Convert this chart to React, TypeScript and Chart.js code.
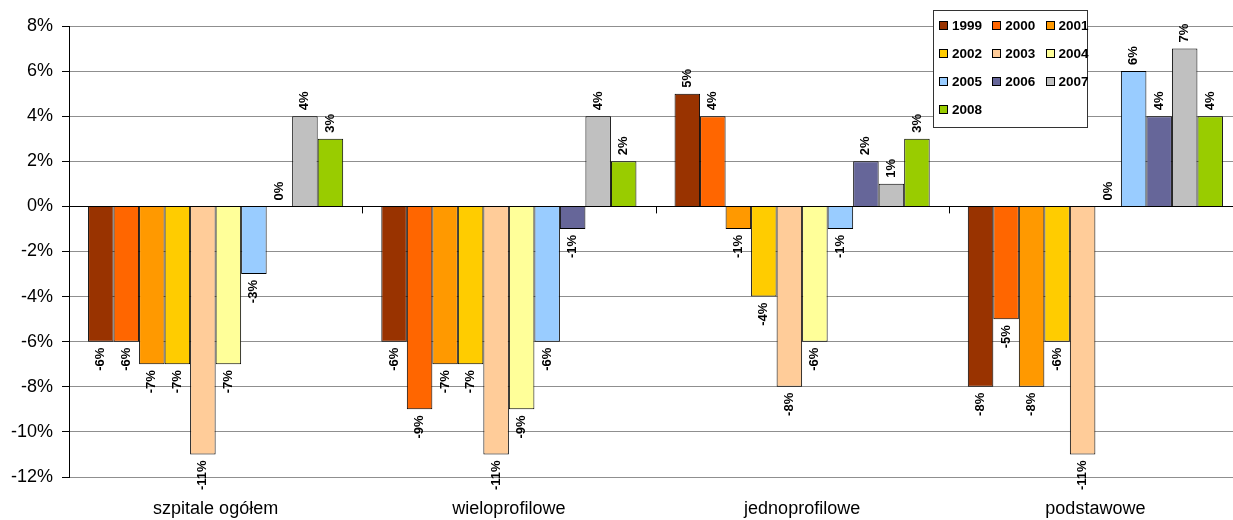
import React, { useEffect, useRef } from "react";
import { Chart, registerables } from "chart.js";

Chart.register(...registerables);

const categories = ["szpitale ogółem", "wieloprofilowe", "jednoprofilowe", "podstawowe"];
const years = ["1999", "2000", "2001", "2002", "2003", "2004", "2005", "2006", "2007", "2008"];
const colors = ["#993300", "#FF6600", "#FF9900", "#FFCC00", "#FFCC99", "#FFFF99", "#99CCFF", "#666699", "#C0C0C0", "#99CC00"];

const v1999 = [-6, -6, 5, -8];
const v2000 = [-6, -9, 4, -5];
const v2001 = [-7, -7, -1, -8];
const v2002 = [-7, -7, -4, -6];
const v2003 = [-11, -11, -8, -11];
const v2004 = [-7, -9, -6, 0];
const v2005 = [-3, -6, -1, 6];
const v2006 = [0, -1, 2, 4];
const v2007 = [4, 4, 1, 7];
const v2008 = [3, 2, 3, 4];
const seriesValues = [v1999, v2000, v2001, v2002, v2003, v2004, v2005, v2006, v2007, v2008];

const yMin = -12;
const yMax = 8;
const yStep = 2;

const FONT = "'Liberation Sans', Arial, sans-serif";

const valueLabels = {
  id: "valueLabels",
  afterDatasetsDraw(chart: any) {
    const ctx = chart.ctx;
    ctx.save();
    ctx.font = `bold 13px ${FONT}`;
    ctx.fillStyle = "#000";
    ctx.textBaseline = "middle";
    chart.data.datasets.forEach((ds: any, di: number) => {
      const meta = chart.getDatasetMeta(di);
      meta.data.forEach((el: any, i: number) => {
        const v = ds.data[i];
        const { x, y } = el.getProps(["x", "y"], true);
        ctx.save();
        if (v >= 0) {
          ctx.translate(x, y - 6);
          ctx.rotate(-Math.PI / 2);
          ctx.textAlign = "left";
        } else {
          ctx.translate(x, y + 6);
          ctx.rotate(-Math.PI / 2);
          ctx.textAlign = "right";
        }
        ctx.fillText(v + "%", 0, 0);
        ctx.restore();
      });
    });
    ctx.restore();
  },
};

const categoryTicks = {
  id: "categoryTicks",
  afterDatasetsDraw(chart: any) {
    const ctx = chart.ctx;
    const xs = chart.scales.x;
    const ys = chart.scales.y;
    const y0 = ys.getPixelForValue(0);
    const n = categories.length;
    ctx.save();
    ctx.strokeStyle = "#000";
    ctx.lineWidth = 1;
    for (let i = 1; i <= n; i++) {
      const x = Math.round(xs.left + (i * (xs.right - xs.left)) / n) + 0.5;
      ctx.beginPath();
      ctx.moveTo(x, y0);
      ctx.lineTo(x, y0 + 7);
      ctx.stroke();
    }
    ctx.restore();
  },
};

export default function App() {
  const canvasRef = useRef<HTMLCanvasElement>(null);

  useEffect(() => {
    if (!canvasRef.current) return;
    const chart = new Chart(canvasRef.current, {
      type: "bar",
      data: {
        labels: categories,
        datasets: years.map((yr, i) => ({
          label: yr,
          data: seriesValues[i],
          backgroundColor: colors[i],
          borderColor: "#000",
          borderWidth: 1,
          barPercentage: 1,
          categoryPercentage: 0.87,
        })),
      },
      options: {
        animation: false,
        responsive: true,
        maintainAspectRatio: false,
        layout: { padding: { top: 26, right: 8, left: 0, bottom: 0 } },
        plugins: {
          legend: { display: false },
          tooltip: { enabled: false },
        },
        scales: {
          x: {
            grid: { display: false },
            border: { display: false },
            ticks: {
              color: "#000",
              font: { family: FONT, size: 18 },
              padding: 13,
              maxRotation: 0,
            },
            afterFit: (s: any) => {
              s.height = 43;
            },
          },
          y: {
            min: yMin,
            max: yMax,
            border: { display: true, color: "#000", width: 1 },
            grid: {
              color: (c: any) => (c.tick && c.tick.value === 0 ? "#000" : "#8f8f8f"),
              tickColor: "#000",
              tickLength: 7,
              drawTicks: true,
            },
            ticks: {
              stepSize: yStep,
              color: "#000",
              font: { family: FONT, size: 18 },
              padding: 9,
              callback: (v: any) => v + "%",
            },
            afterFit: (s: any) => {
              s.width = 69;
            },
          },
        },
      },
      plugins: [valueLabels, categoryTicks],
    });
    return () => chart.destroy();
  }, []);

  const legendItems = years.map((yr, i) => {
    const row = Math.floor(i / 3);
    const col = i % 3;
    return (
      <div
        key={yr}
        style={{
          position: "absolute",
          left: 5 + col * 53.3,
          top: 14.3 + row * 28 - 8,
          height: 16,
          display: "flex",
          alignItems: "center",
          fontFamily: FONT,
          fontWeight: "bold",
          fontSize: 13.5,
          color: "#000",
          whiteSpace: "nowrap",
        }}
      >
        <span
          style={{
            display: "inline-block",
            width: 7,
            height: 7,
            background: colors[i],
            border: "1px solid #000",
            marginRight: 4,
          }}
        />
        {yr}
      </div>
    );
  });

  return (
    <div
      style={{
        position: "fixed",
        left: 0,
        top: 0,
        width: 1233,
        height: 520,
        overflow: "hidden",
        background: "#fff",
      }}
    >
      <div style={{ position: "absolute", left: 0, top: 0, width: 1250, height: 520 }}>
        <canvas ref={canvasRef} />
      </div>
      <div
        style={{
          position: "absolute",
          left: 933,
          top: 10,
          width: 153,
          height: 116,
          border: "1px solid #333",
          background: "#fff",
        }}
      >
        {legendItems}
      </div>
    </div>
  );
}
